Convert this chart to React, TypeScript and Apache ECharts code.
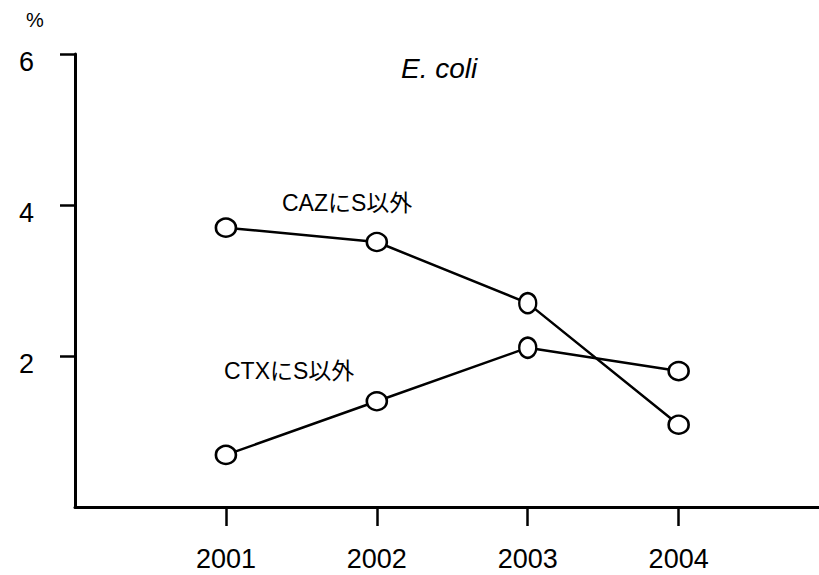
import React, { useEffect, useRef } from "react";
import * as echarts from "echarts";

const years = [2001, 2002, 2003, 2004];
const cazValues = [3.7, 3.51, 2.7, 1.09];
const ctxValues = [0.69, 1.4, 2.11, 1.8];
const yTickValues = [2, 4, 6];
const seriesNames = ["CAZにS以外", "CTXにS以外"];
const titleText = "E. coli";
const unitText = "%";

const FONT = '"Liberation Sans", Arial, "Noto Sans CJK JP", sans-serif';

export default function App() {
  const ref = useRef<HTMLDivElement>(null);
  useEffect(() => {
    if (!ref.current) return;
    const chart = echarts.init(ref.current, undefined, { renderer: "svg" });
    const mk = (name: string, vals: number[]) => ({
      name,
      type: "line",
      data: years.map((y, i) => [y, vals[i]]),
      symbol: "circle",
      symbolSize: (_v: any, p: any) => (p.dataIndex === 2 ? [17, 20] : [20, 18]),
      lineStyle: { color: "#000", width: 2.5 },
      itemStyle: { color: "#fff", borderColor: "#000", borderWidth: 2.5 },
      z: 3,
    });
    chart.setOption({
      animation: false,
      backgroundColor: "#fff",
      textStyle: { fontFamily: FONT },
      grid: { left: 75, right: 0, top: 54, bottom: 68, containLabel: false },
      xAxis: {
        type: "value",
        min: 2000,
        max: 2004.93,
        axisLine: { lineStyle: { color: "#000", width: 3 } },
        axisTick: {
          show: true,
          customValues: years,
          length: 19,
          lineStyle: { color: "#000", width: 2.5 },
        },
        axisLabel: {
          customValues: years,
          formatter: (v: number) => String(v),
          fontSize: 27,
          color: "#000",
          margin: 38,
          fontFamily: FONT,
        },
        splitLine: { show: false },
      },
      yAxis: {
        type: "value",
        min: 0,
        max: 6,
        interval: 2,
        axisLine: { show: true, lineStyle: { color: "#000", width: 3 } },
        axisTick: {
          show: true,
          customValues: yTickValues,
          length: 15,
          lineStyle: { color: "#000", width: 2.5 },
        },
        axisLabel: {
          customValues: yTickValues,
          fontSize: 27,
          color: "#000",
          margin: 41,
          verticalAlign: "top",
          lineHeight: 16,
          fontFamily: FONT,
        },
        splitLine: { show: false },
      },
      graphic: [
        {
          type: "text",
          left: 26,
          top: 10,
          style: { text: unitText, fontSize: 20, fill: "#000", fontFamily: FONT },
        },
        {
          type: "text",
          left: 401,
          top: 54,
          style: { text: titleText, fontSize: 28, fontStyle: "italic", fill: "#000", fontFamily: FONT },
        },
        {
          type: "text",
          left: 282,
          top: 191,
          style: { text: seriesNames[0], fontSize: 23, fill: "#000", fontFamily: FONT },
        },
        {
          type: "text",
          left: 224,
          top: 359,
          style: { text: seriesNames[1], fontSize: 23, fill: "#000", fontFamily: FONT },
        },
      ],
      series: [mk(seriesNames[0], cazValues), mk(seriesNames[1], ctxValues)],
    });
    return () => chart.dispose();
  }, []);
  return (
    <div
      ref={ref}
      style={{ position: "fixed", left: 0, top: 0, width: 819, height: 575, background: "#fff" }}
    />
  );
}
